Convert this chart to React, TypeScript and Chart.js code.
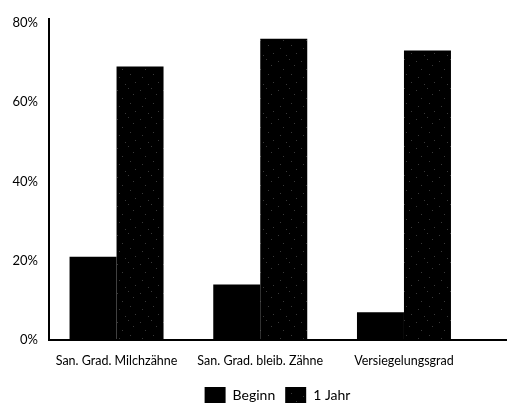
import React, { useEffect, useRef } from "react";
import { Chart, registerables } from "chart.js";

Chart.register(...registerables);

const categories = ["San. Grad. Milchzähne", "San. Grad. bleib. Zähne", "Versiegelungsgrad"];
const seriesNames = ["Beginn", "1 Jahr"];
const beginn = [21, 14, 7];
const einJahr = [69, 76, 73];
const yTicks = [0, 20, 40, 60, 80];

const FONT = "Lato, 'Open Sans', sans-serif";

function makeSpecklePattern(ctx: CanvasRenderingContext2D): CanvasPattern | string {
  const c = document.createElement("canvas");
  c.width = 23;
  c.height = 29;
  const p = c.getContext("2d");
  if (!p) return "#000";
  p.fillStyle = "#000";
  p.fillRect(0, 0, c.width, c.height);
  p.fillStyle = "#3a3a3a";
  const dots = [
    [2, 3], [13, 1], [7, 11], [18, 7], [4, 19], [15, 16], [20, 24], [10, 26],
  ];
  dots.forEach(([x, y]) => p.fillRect(x, y, 1, 1));
  return ctx.createPattern(c, "repeat") || "#000";
}

export default function App() {
  const ref = useRef<HTMLCanvasElement | null>(null);

  useEffect(() => {
    const canvas = ref.current;
    if (!canvas) return;
    const ctx = canvas.getContext("2d");
    if (!ctx) return;
    const speckle = makeSpecklePattern(ctx);

    const chart = new Chart(canvas, {
      type: "bar",
      data: {
        datasets: [
          {
            label: seriesNames[0],
            data: beginn.map((v, i) => ({ x: i, y: v })),
            backgroundColor: "#000",
            borderWidth: 0,
          },
          {
            label: seriesNames[1],
            data: einJahr.map((v, i) => ({ x: i, y: v })),
            backgroundColor: speckle as any,
            borderWidth: 0,
          },
        ],
      },
      options: {
        animation: false,
        responsive: true,
        maintainAspectRatio: false,
        layout: { padding: { top: 15, right: 1, left: 0, bottom: -10 } },
        datasets: {
          bar: { categoryPercentage: 0.654, barPercentage: 1 },
        },
        plugins: {
          tooltip: { enabled: false },
          legend: {
            position: "bottom",
            fullSize: false,
            labels: {
              boxWidth: 21,
              boxHeight: 16,
              padding: 10,
              color: "#000",
              font: { family: FONT, size: 14 },
            },
          },
        },
        scales: {
          x: {
            type: "linear",
            min: -0.47,
            max: 2.71,
            offset: false,
            afterBuildTicks: (scale: any) => {
              scale.ticks = categories.map((_, i) => ({ value: i }));
            },
            afterFit: (scale: any) => {
              scale.height = scale.height - 4;
            },
            grid: { display: false, drawTicks: false },
            border: { display: true, color: "#000", width: 2 },
            ticks: {
              padding: 13,
              color: "#000",
              maxRotation: 0,
              autoSkip: false,
              font: { family: FONT, size: 12.5 },
              callback: (v: any) => categories[Math.round(Number(v))] ?? "",
            },
          },
          y: {
            type: "linear",
            min: 0,
            max: 81,
            afterBuildTicks: (scale: any) => {
              scale.ticks = yTicks.map((v) => ({ value: v }));
            },
            afterFit: (scale: any) => {
              scale.width = 49;
            },
            grid: { display: false, drawTicks: false },
            border: { display: true, color: "#000", width: 2 },
            ticks: {
              padding: 11,
              color: "#000",
              font: { family: FONT, size: 13 },
              callback: (v: any) => `${v}%`,
            },
          },
        },
      },
    });
    return () => chart.destroy();
  }, []);

  return (
    <div style={{ position: "fixed", left: 0, top: 0, width: 507, height: 403, background: "#fff" }}>
      <canvas ref={ref} />
    </div>
  );
}
